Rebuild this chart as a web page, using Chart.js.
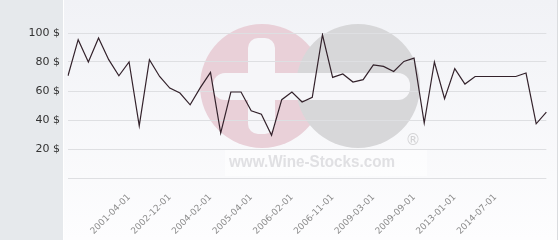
<!DOCTYPE html>
<html><head><meta charset="utf-8">
<script src="https://cdn.jsdelivr.net/npm/chart.js@4"></script>
<style>html,body{margin:0;padding:0;background:#fff}</style>
</head><body>
<canvas id="c" width="560" height="240" style="display:block;width:560px;height:240px"></canvas>
<script>
// ---- data ----
const prices = [70.5,95.4,80,96.5,81.6,70.5,80,36,81.6,70,
                62,58.6,50.5,62.3,72.8,31,59.3,59.3,46.4,44,
                29.5,54,59.3,52.4,55.6,98.8,69.4,71.7,66.2,67.8,
                78,77,73.5,80.4,82.7,37.9,80,54.7,75.4,64.8,
                70,70,70,70,70,72.4,37.4,45.5];
const tickLabels = ['2001-04-01','2002-12-01','2004-02-01','2005-04-01','2006-02-01',
                    '2006-11-01','2009-03-01','2009-09-01','2013-01-01','2014-07-01'];
const tickIndices = [6,10,14,18,22,26,30,34,38,42];
const yTickValues = [0,20,40,60,80,100];
const currency = '$';

const categories = prices.map(() => '');
tickIndices.forEach((idx, k) => { categories[idx] = tickLabels[k]; });

const bgPlugin = {
  id: 'bg',
  beforeDraw(chart) {
    const ctx = chart.ctx;
    ctx.save();
    ctx.fillStyle = '#ffffff';
    ctx.fillRect(0, 0, 560, 240);
    ctx.fillStyle = '#e6e9ec';
    ctx.fillRect(0, 0, 63, 240);
    const g = ctx.createLinearGradient(0, 0, 0, 240);
    g.addColorStop(0, '#f1f2f6');
    g.addColorStop(1, '#fdfdfe');
    ctx.fillStyle = g;
    ctx.fillRect(64, 0, 493, 240);
    ctx.fillStyle = '#dadcdf';
    ctx.fillRect(557, 0, 1, 240);
    // watermark
    ctx.fillStyle = '#e9d0d8';
    ctx.beginPath(); ctx.arc(262, 86, 62, 0, Math.PI * 2); ctx.fill();
    ctx.fillStyle = '#d7d7d9';
    ctx.beginPath(); ctx.arc(358, 86, 62, 0, Math.PI * 2); ctx.fill();
    ctx.fillStyle = '#f6f6f9';
    const rr = (x, y, w, h, r) => { ctx.beginPath(); ctx.roundRect(x, y, w, h, r); ctx.fill(); };
    rr(248, 38, 27, 96, 10);
    rr(213, 73, 197, 27, 12);
    ctx.fillStyle = 'rgba(255,255,255,0.55)';
    ctx.fillRect(225, 150, 202, 26);
    ctx.fillStyle = '#e0e0e3';
    ctx.font = 'bold 16px "Liberation Sans", Arial, sans-serif';
    ctx.textAlign = 'center';
    ctx.textBaseline = 'alphabetic';
    ctx.fillText('www.Wine-Stocks.com', 312, 167, 166);
    ctx.fillStyle = '#d2d2d4';
    ctx.font = '15px "DejaVu Sans", sans-serif';
    ctx.fillText('\u00AE', 413, 145);
    ctx.restore();
  }
};

new Chart(document.getElementById('c'), {
  type: 'line',
  data: {
    labels: categories,
    datasets: [{
      data: prices,
      borderColor: '#33222b',
      borderWidth: 1.2,
      pointRadius: 0,
      tension: 0,
      fill: false
    }]
  },
  options: {
    responsive: false,
    animation: false,
    devicePixelRatio: 1,
    layout: { padding: { top: 33, right: 5, bottom: 0, left: 0 } },
    plugins: { legend: { display: false }, tooltip: { enabled: false } },
    scales: {
      x: {
        grid: { display: false },
        border: { display: false },
        afterFit(s) { s.height = 62; },
        ticks: {
          autoSkip: false,
          maxRotation: 45, minRotation: 45,
          padding: 6,
          color: '#8c8c8c',
          font: { family: '"DejaVu Sans", sans-serif', size: 9 },
          callback: (v, i) => categories[i]
        }
      },
      y: {
        min: yTickValues[0], max: yTickValues[yTickValues.length - 1],
        afterFit(s) { s.width = 68; },
        afterBuildTicks(s) { s.ticks = yTickValues.map(v => ({ value: v })); },
        border: { display: false },
        grid: { color: '#dedfe2', lineWidth: 1, drawTicks: false },
        ticks: {
          padding: 8,
          color: '#333333',
          font: { family: '"DejaVu Sans", sans-serif', size: 11 },
          callback: v => v === 0 ? '' : v + ' ' + currency
        }
      }
    }
  },
  plugins: [bgPlugin]
});
</script>
</body></html>
